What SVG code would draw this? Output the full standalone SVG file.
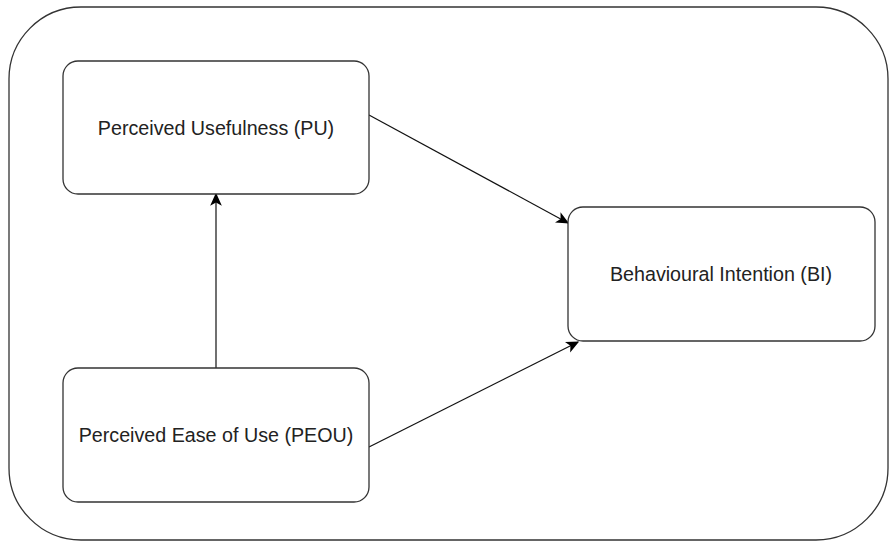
<svg xmlns="http://www.w3.org/2000/svg" width="891" height="541" viewBox="0 0 891 541">
<style>
.box{fill:#fff;stroke:#333;stroke-width:1.3}
.lbl{font-family:"Liberation Sans",Arial,sans-serif;font-size:19.7px;fill:#222;text-anchor:middle}
.edge{stroke:#111;stroke-width:1.2;fill:none;marker-end:url(#ah)}
</style>
<defs>
<marker id="ah" viewBox="0 0 10 10" refX="9" refY="5" markerWidth="13" markerHeight="13" markerUnits="userSpaceOnUse" orient="auto">
<path d="M0,0.5 L10,5 L0,9.5 L2.5,5 Z" fill="#000"/>
</marker>
</defs>
<g id="container"><rect class="box" x="9" y="7" width="879" height="533" rx="72" ry="72"/></g>
<g id="connectors">
<line class="edge" x1="216" y1="368" x2="216" y2="194"/>
<line class="edge" x1="369" y1="115" x2="568" y2="223"/>
<line class="edge" x1="369" y1="447" x2="578" y2="342"/>
</g>
<g id="pu"><rect class="box" x="63" y="61" width="306" height="133" rx="15" ry="15"/><text class="lbl" x="216" y="135">Perceived Usefulness (PU)</text></g>
<g id="peou"><rect class="box" x="63" y="368" width="306" height="134" rx="15" ry="15"/><text class="lbl" x="216" y="442">Perceived Ease of Use (PEOU)</text></g>
<g id="bi"><rect class="box" x="568" y="207" width="307" height="134" rx="15" ry="15"/><text class="lbl" x="721" y="281">Behavioural Intention (BI)</text></g>
</svg>
